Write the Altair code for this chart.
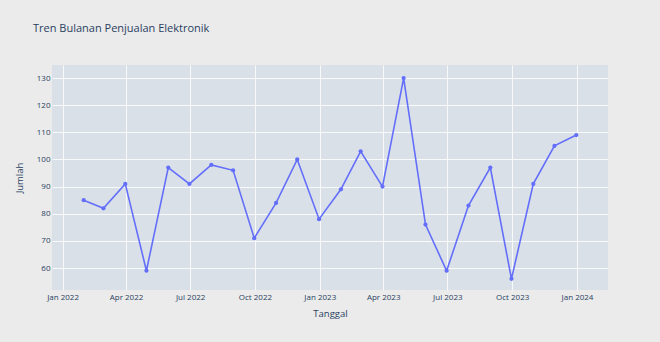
import altair as alt
import pandas as pd

dates = pd.date_range("2022-01-31", periods=24, freq="ME").strftime("%Y-%m-%d").tolist()
values = [85, 82, 91, 59, 97, 91, 98, 96, 71, 84, 100, 78,
          89, 103, 90, 130, 76, 59, 83, 97, 56, 91, 105, 109]
x_ticks = ["2022-01-01", "2022-04-01", "2022-07-01", "2022-10-01", "2023-01-01",
           "2023-04-01", "2023-07-01", "2023-10-01", "2024-01-01"]
y_ticks = [60, 70, 80, 90, 100, 110, 120, 130]

df = pd.DataFrame({"Tanggal": dates, "Jumlah": values})

FONT = "Open Sans"
TXT = "#2a3f5f"

x_enc = alt.X("Tanggal:T", title="Tanggal",
              scale=alt.Scale(domain=["2021-12-17", "2024-02-14"]),
              axis=alt.Axis(values=[alt.DateTime(year=int(d[:4]), month=int(d[5:7]), date=1) for d in x_ticks],
                            format="%b %Y", labelFontSize=8, labelColor=TXT,
                            titleFontSize=9.5, titleColor=TXT, titleFontWeight="normal",
                            titlePadding=7, labelPadding=3, tickSize=0, domain=False,
                            gridColor="white", gridWidth=1, gridOpacity=0.8,
                            labelFont=FONT, titleFont=FONT))
y_enc = alt.Y("Jumlah:Q", title="Jumlah",
              scale=alt.Scale(domain=[51.9, 134.8], nice=False, zero=False),
              axis=alt.Axis(values=y_ticks, labelFontSize=8, labelColor=TXT,
                            titleFontSize=9.5, titleColor=TXT, titleFontWeight="normal",
                            titlePadding=12, labelPadding=2, tickSize=0, domain=False,
                            gridColor="white", gridWidth=1, gridOpacity=0.8,
                            labelFont=FONT, titleFont=FONT))

line = alt.Chart(df).mark_line(color="#636efa", strokeWidth=1.6).encode(x=x_enc, y=y_enc)
pts = alt.Chart(df).mark_point(color="#636efa", filled=True, size=18, opacity=1).encode(x=x_enc, y=y_enc)

chart = alt.layer(line, pts).properties(
    width=556, height=225,
    title=alt.TitleParams("Tren Bulanan Penjualan Elektronik", anchor="start", frame="group",
                          dx=-19, offset=31, fontSize=11, font=FONT, color=TXT, fontWeight="normal"),
    autosize="none",
    padding={"left": 52, "top": 65, "right": 52, "bottom": 52},
    background="#ebebeb",
).configure_view(fill="#dae0e8", stroke=None)

chart.save("out.html", embed_options={"renderer": "svg", "actions": False})
